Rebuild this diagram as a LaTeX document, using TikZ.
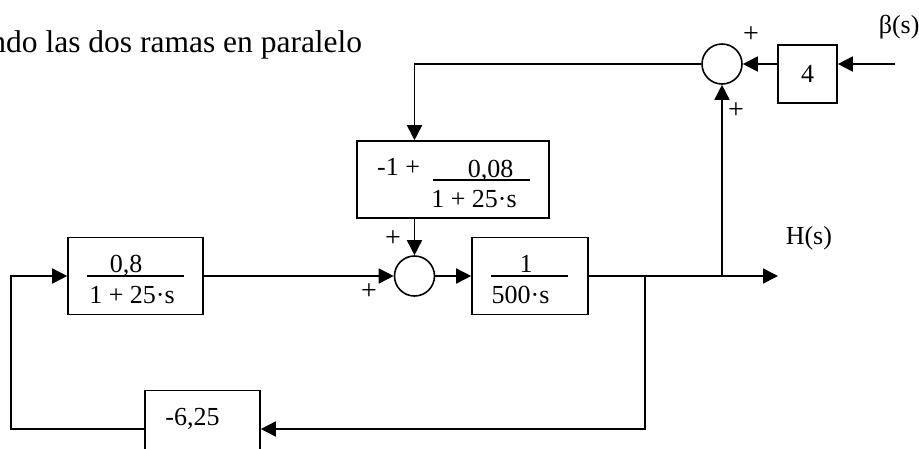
\documentclass[tikz,border=0pt]{standalone}
\usepackage{fontspec}
\setmainfont{Liberation Serif}
\usetikzlibrary{arrows.meta}
\begin{document}
\begin{tikzpicture}[x=1pt,y=-1pt,line width=1.6pt,
  lbl/.style={font=\fontsize{26pt}{30pt}\selectfont,inner sep=0pt},
  blk/.style={draw,line width=1.6pt,inner sep=0pt,minimum height=77pt,minimum width=#1},
  sumc/.style={draw,circle,line width=1.6pt,inner sep=0pt,minimum size=40pt},
  arr/.style={-{Triangle[length=15pt,width=15pt]}},
  bar/.style={line width=1.6pt}]
\useasboundingbox (0,0) rectangle (919,448);
% title
\node[lbl,font=\fontsize{31.5pt}{36pt}\selectfont,anchor=base east] (title) at (363,52) {ndo las dos ramas en paralelo};
% blocks
\node[blk=135pt] (b1) at (135.5,276) {};
\node[blk=116pt] (b2) at (530,276) {};
\node[blk=192pt] (b3) at (453,179.5) {};
\node[blk=59pt,minimum height=58pt] (b4) at (807.5,74) {};
\node[blk=115pt] (b5) at (202.5,429) {};
% summing junctions
\node[sumc] (c1) at (722,64) {};
\node[sumc] (c2) at (414.5,276) {};
% block contents
\node[lbl,anchor=base] (n1) at (126,272) {0,8};
\draw[bar] (87,276) -- (184,276);
\node[lbl,anchor=base] (d1) at (132,303) {1 + 25·s};
\node[lbl,anchor=base] (n2) at (526,272) {1};
\draw[bar] (491,276) -- (568,276);
\node[lbl,anchor=base] (d2) at (520.5,303) {500·s};
\node[lbl,anchor=base] (m3) at (398.5,175) {-1 +};
\node[lbl,anchor=base] (n3) at (490.5,177) {0,08};
\draw[bar] (433,180) -- (530,180);
\node[lbl,anchor=base] (d3) at (474,207) {1 + 25·s};
\node[lbl,anchor=base] (n4) at (807.5,82) {4};
\node[lbl,anchor=base] (n5) at (192.5,425) {-6,25};
% signs
\node[lbl,font=\fontsize{28pt}{32pt}\selectfont] (p1) at (751,35) {+};
\node[lbl,font=\fontsize{28pt}{32pt}\selectfont] (p2) at (736,111) {+};
\node[lbl,font=\fontsize{28pt}{32pt}\selectfont] (p3) at (393,239) {+};
\node[lbl,font=\fontsize{28pt}{32pt}\selectfont] (p4) at (369,292) {+};
% external labels
\node[lbl,anchor=base west] (beta) at (878,33) {β(s)};
\node[lbl,anchor=base west] (hs) at (785,244) {H(s)};
% coordinates
\coordinate (k1) at (414.5,64);
\coordinate (in) at (895,64);
\coordinate (out) at (778,276);
\coordinate (j1) at (722,276);
\coordinate (j2) at (645,276);
\coordinate (k2) at (11,429);
% connectors
\draw[arr] (in) -- (in -| b4.east);
\draw[arr] (b4.west |- c1.east) -- (c1.east);
\draw[arr] (c1.west) -- (k1) -- (k1 |- b3.north);
\draw[arr] (k1 |- b3.south) -- (c2.north);
\draw[arr] (b1.east) -- (c2.west);
\draw[arr] (c2.east) -- (b2.west);
\draw[arr] (b2.east) -- (out);
\draw[arr] (j1) -- (c1.south);
\draw[arr] (j2) |- (b5.east);
\draw[arr] (b5.west) -- (k2) |- (b1.west);
\end{tikzpicture}
\end{document}
